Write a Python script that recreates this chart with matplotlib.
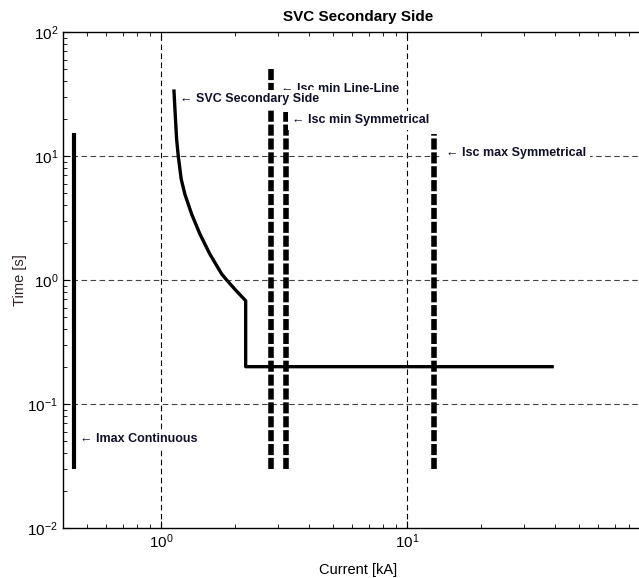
import matplotlib
matplotlib.use('Agg')
import matplotlib.pyplot as plt

plt.rcParams['font.family'] = ['Liberation Sans', 'DejaVu Sans']
plt.rcParams['lines.scale_dashes'] = False

# Kriva SVC (sekundarni strana)
svc_i = [1.13, 1.14, 1.15, 1.158, 1.176, 1.209, 1.252, 1.333, 1.44,
         1.58, 1.765, 1.85, 2.0, 2.21, 2.21, 38.9]
svc_t = [33.4, 24.0, 17.5, 13.7, 10.0, 6.5, 4.9, 3.4, 2.35,
         1.62, 1.12, 1.0, 0.84, 0.68, 0.2, 0.2]

# Svisle proudy (x, t_min, t_max)
imax_i = 0.443
imax_t = [0.03, 15.3]
isc_i = [2.80, 3.22, 12.9]
isc_tmin = [0.03, 0.03, 0.03]
isc_tmax = [51.0, 22.6, 15.0]

# Popisky
lbl_text = ['\u2190 Isc min Line-Line', '\u2190 SVC Secondary Side',
            '\u2190 Isc min Symmetrical', '\u2190 Isc max Symmetrical',
            '\u2190 Imax Continuous']
lbl_x = [3.08, 1.20, 3.40, 14.4, 0.47]
lbl_y = [34.7, 28.8, 19.5, 10.6, 0.052]

fig = plt.figure(figsize=(6.39, 5.78), dpi=100)
ax = fig.add_axes([0.0986, 0.0865, 0.9234, 0.8581])
ax.set_xscale('log')
ax.set_yscale('log')
ax.set_xlim(0.4, 100)
ax.set_ylim(0.01, 100)
ax.set_xticks([1, 10])

# mrizka jen na hlavnich dilcich
for gx in [1, 10]:
    ax.axvline(gx, color='black', lw=0.8, dashes=(4, 2.5), zorder=1)
for gy in [0.1, 1, 10]:
    ax.axhline(gy, color='#444444', lw=0.8, dashes=(4, 2.5), zorder=1)

ax.plot(svc_i, svc_t, color='black', lw=2.4, solid_joinstyle='round', zorder=2)
ax.plot([imax_i, imax_i], imax_t, color='black', lw=3.0, solid_capstyle='butt', zorder=2)
for xi, t0, t1 in zip(isc_i, isc_tmin, isc_tmax):
    ax.plot([xi, xi], [t0, t1], color='black', lw=4.0, dashes=(8, 2), zorder=2)

for i, (txt, lx, ly) in enumerate(zip(lbl_text, lbl_x, lbl_y)):
    ax.text(lx, ly, txt, fontsize=9, fontweight='bold', color='#10102a',
            ha='left', va='center', zorder=3 + i,
            bbox=dict(facecolor='white', edgecolor='none', pad=2.5))

ax.tick_params(which='both', direction='in', top=True, right=True, labelsize=11)
ax.tick_params(which='major', length=5, width=0.8)
ax.tick_params(which='minor', length=3, width=0.6)
for s in ax.spines.values():
    s.set_linewidth(1.0)

ax.set_title('SVC Secondary Side', fontsize=11, fontweight='bold', pad=8)
ax.set_xlabel('Current [kA]', fontsize=10.5, labelpad=8)
ax.set_ylabel('Time [s]', fontsize=10.5, color='#302028', labelpad=0)

fig.savefig('out.png', dpi=100)
